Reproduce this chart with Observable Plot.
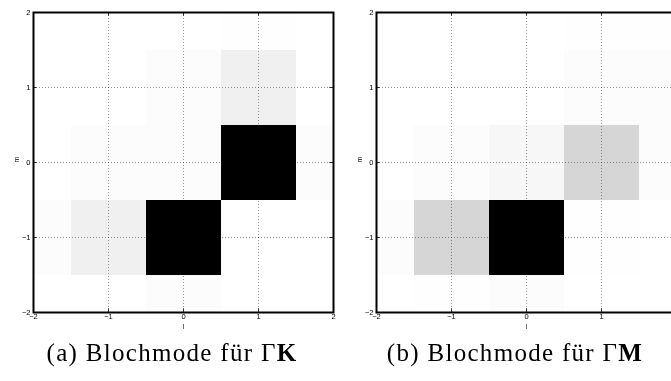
<!DOCTYPE html>
<html>
<head>
<meta charset="utf-8">
<script src="https://cdn.jsdelivr.net/npm/d3@7"></script>
<script src="https://cdn.jsdelivr.net/npm/@observablehq/plot@0.6"></script>
<style>
  html, body { margin: 0; padding: 0; background: white; }
  body { position: relative; width: 671px; height: 381px; overflow: hidden; }
  .fig { position: absolute; top: 0; width: 343px; height: 335px; }
  .fig svg { max-width: none !important; }
  .cap { position: absolute; top: 339px; width: 344px; text-align: center;
         font-family: "Liberation Serif", "DejaVu Serif", serif; font-size: 25px; letter-spacing: 1.3px; color: #000; white-space: nowrap; }
  .cap b { font-weight: bold; }
</style>
</head>
<body>
<div id="a" class="fig" style="left:0px"></div>
<div id="b" class="fig" style="left:343px"></div>
<div class="cap" style="left:0px">(a) Blochmode für Γ<b>K</b></div>
<div class="cap" style="left:343px">(b) Blochmode für Γ<b>M</b></div>
<script>
// Axis categories
const lValues = [-2, -1, 0, 1, 2];
const mValues = [2, 1, 0, -1, -2];
const tickLabelsA = [-2, -1, 0, 1, 2];
const tickLabelsB = [-2, -1, 0, 1];   // the "2" at the right edge is cut off in the reference
const gridTicks = [-1, 0, 1];

// Intensity (0 = white, 1 = black), rows follow mValues, columns follow lValues
const modeGammaK = [
  [0.00, 0.00, 0.00, 0.005, 0.00],
  [0.00, 0.00, 0.01, 0.06, 0.00],
  [0.00, 0.01, 0.01, 1.00, 0.01],
  [0.01, 0.06, 1.00, 0.00, 0.00],
  [0.00, 0.00, 0.01, 0.00, 0.00]
];
const modeGammaM = [
  [0.00, 0.00, 0.00, 0.005, 0.005],
  [0.00, 0.00, 0.00, 0.01, 0.01],
  [0.00, 0.01, 0.03, 0.16, 0.01],
  [0.01, 0.16, 1.00, 0.005, 0.00],
  [0.00, 0.005, 0.01, 0.00, 0.00]
];

function toCells(matrix) {
  return mValues.flatMap((m, i) => lValues.map((l, j) => ({l, m, v: matrix[i][j]})));
}

const fmt = d => (d < 0 ? "\u2212" : "") + Math.abs(d);

function chart(matrix, xTicks) {
  const cells = toCells(matrix);
  return Plot.plot({
    width: 343,
    height: 335,
    marginLeft: 33,
    marginTop: 12,
    marginRight: 10,
    marginBottom: 23,
    x: {domain: [-2, 2]},
    y: {domain: [-2, 2]},
    color: {type: "linear", domain: [0, 1], range: ["white", "black"]},
    style: {fontFamily: "'Liberation Sans', Arial, sans-serif", fontSize: "7.5px", background: "white", overflow: "visible"},
    marks: [
      Plot.rect(cells, {
        x1: d => d.l - 0.5, x2: d => d.l + 0.5,
        y1: d => d.m - 0.5, y2: d => d.m + 0.5,
        fill: "v", clip: true, shapeRendering: "crispEdges"
      }),
      Plot.gridX(gridTicks, {stroke: "#9a9a9a", strokeOpacity: 1, strokeDasharray: "1,2", mixBlendMode: "multiply"}),
      Plot.gridY(gridTicks, {stroke: "#9a9a9a", strokeOpacity: 1, strokeDasharray: "1,2", mixBlendMode: "multiply"}),
      Plot.ruleX(gridTicks, {y1: -2, y2: -1.95, stroke: "#333"}),
      Plot.ruleX(gridTicks, {y1: 2, y2: 1.95, stroke: "#333"}),
      Plot.ruleY(gridTicks, {x1: -2, x2: -1.95, stroke: "#333"}),
      Plot.ruleY(gridTicks, {x1: 2, x2: 1.95, stroke: "#333"}),
      Plot.axisX(xTicks, {tickSize: 0, tickPadding: 1, label: null, tickFormat: fmt}),
      Plot.axisY(tickLabelsA, {tickSize: 0, tickPadding: 3, label: null, tickFormat: fmt}),
      Plot.frame({stroke: "black", strokeWidth: 2}),
      Plot.text(["m"], {frameAnchor: "left", dx: -17, rotate: -90, fontSize: 7}),
      Plot.text(["l"], {frameAnchor: "bottom", dy: 16, fontSize: 6.5})
    ]
  });
}

document.getElementById("a").append(chart(modeGammaK, tickLabelsA));
document.getElementById("b").append(chart(modeGammaM, tickLabelsB));
</script>
</body>
</html>
